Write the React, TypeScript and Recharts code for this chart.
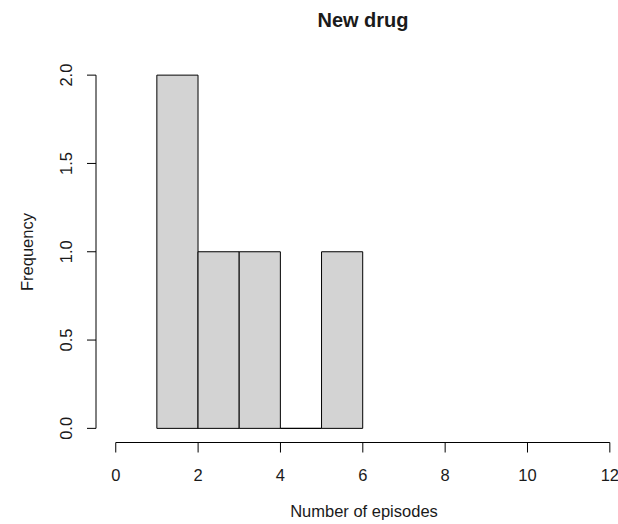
import { BarChart, Bar, XAxis, YAxis, ReferenceLine } from 'recharts'

// histogram bins (R hist style)
const binStarts = [1, 2, 3, 4, 5]
const binEnds = [2, 3, 4, 5, 6]
const counts = [2, 1, 1, 0, 1]

const xTicks = [0, 2, 4, 6, 8, 10, 12]
const yTicks = [0, 0.5, 1, 1.5, 2]
const yTickLabels = ['0.0', '0.5', '1.0', '1.5', '2.0']

const X_MIN = 0
const X_MAX = 12
const Y_MIN = 0
const Y_MAX = 2
// R extends the plot region by 4% on each side
const XPAD = 0.04 * (X_MAX - X_MIN)
const YPAD = 0.04 * (Y_MAX - Y_MIN)

const W = 640
const H = 524
const LEFT = 96
const TOP = 61
const RIGHT = 10.4
const XAXIS_H = 81.5
const PX_PER_UNIT = (W - LEFT - RIGHT) / (X_MAX - X_MIN + 2 * XPAD)

const FONT = '"Liberation Sans", Arial, sans-serif'
const TEXT = '#1a1a1a'
const FS = 16.5

const data = binStarts.map((s, i) => ({
  mid: (s + binEnds[i]) / 2,
  width: binEnds[i] - s,
  count: counts[i],
}))

const HistRect = (props: any) => {
  const { x, y, width, height, payload } = props
  // recharts leaves a gap between bars on a number axis; rebuild the bin width around the centre
  const cx = x + width / 2
  const w = payload.width * PX_PER_UNIT
  // a path so empty bins still draw their flat line, as R does
  const d = `M${cx - w / 2},${y}h${w}v${height}h${-w}Z`
  return <path d={d} fill="#D3D3D3" stroke="#000" strokeWidth={1} />
}

const YTick = (props: any) => {
  const { x, y, payload } = props
  const idx = yTicks.indexOf(payload.value)
  return (
    <text x={x} y={y} transform={`rotate(-90, ${x}, ${y})`} textAnchor="middle"
      fontSize={FS} fontFamily={FONT} fill={TEXT}>
      {yTickLabels[idx]}
    </text>
  )
}

export default function App() {
  return (
    <div style={{ position: 'absolute', left: 0, top: 0, width: 618, height: 524, overflow: 'hidden', background: '#fff' }}>
      <BarChart width={W} height={H} data={data}
        margin={{ top: TOP, right: RIGHT, left: 0, bottom: 0 }}
        barCategoryGap={0} barGap={0}>
        <XAxis
          dataKey="mid"
          type="number"
          domain={[X_MIN - XPAD, X_MAX + XPAD]}
          ticks={xTicks}
          interval={0}
          height={XAXIS_H}
          axisLine={false}
          tickLine={{ stroke: '#000' }}
          tickSize={10}
          tickMargin={16.5}
          tick={{ fontSize: FS, fontFamily: FONT, fill: TEXT }}
        />
        <YAxis
          type="number"
          domain={[Y_MIN - YPAD, Y_MAX + YPAD]}
          ticks={yTicks}
          interval={0}
          width={LEFT}
          axisLine={false}
          tickLine={{ stroke: '#000' }}
          tickSize={9}
          tickMargin={15}
          tick={<YTick />}
        />
        <Bar dataKey="count" shape={<HistRect />} isAnimationActive={false} />
        <ReferenceLine segment={[{ x: X_MIN, y: Y_MIN - YPAD }, { x: X_MAX, y: Y_MIN - YPAD }]}
          stroke="#000" strokeWidth={1} ifOverflow="visible" />
        <ReferenceLine segment={[{ x: X_MIN - XPAD, y: Y_MIN }, { x: X_MIN - XPAD, y: Y_MAX }]}
          stroke="#000" strokeWidth={1} ifOverflow="visible" />
      </BarChart>
      <svg width={618} height={524} style={{ position: 'absolute', left: 0, top: 0, pointerEvents: 'none' }}>
        <text x={363} y={27} textAnchor="middle" fontSize={20} fontWeight="bold" fontFamily={FONT} fill={TEXT}>
          New drug
        </text>
        <text x={364} y={517} textAnchor="middle" fontSize={FS} fontFamily={FONT} fill={TEXT}>
          Number of episodes
        </text>
        <text x={33} y={252} transform="rotate(-90, 33, 252)" textAnchor="middle" fontSize={FS} fontFamily={FONT} fill={TEXT}>
          Frequency
        </text>
      </svg>
    </div>
  )
}
